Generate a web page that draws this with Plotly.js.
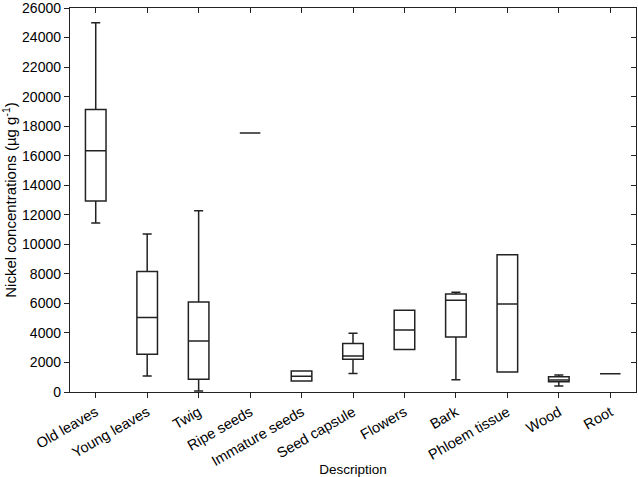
<!DOCTYPE html>
<html>
<head>
<meta charset="utf-8">
<script src="https://cdn.plot.ly/plotly-3.0.1.min.js"></script>
<style>html,body{margin:0;padding:0;background:#fff;}#chart{width:638px;height:477px;}</style>
</head>
<body>
<div id="chart"></div>
<script>
const categories = ["Old leaves","Young leaves","Twig","Ripe seeds","Immature seeds","Seed capsule","Flowers","Bark","Phloem tissue","Wood","Root"];
const minVals    = [11440, 1080,    70, 17530,  740, 1260, 2880,  830, 1350, 400, 1230];
const q1Vals     = [12940, 2560,   860, 17530,  740, 2220, 2880, 3730, 1350, 690, 1230];
const medianVals = [16330, 5040,  3460, 17530, 1060, 2430, 4200, 6220, 5950, 810, 1230];
const q3Vals     = [19120, 8160,  6090, 17530, 1420, 3280, 5530, 6630, 9300, 1030, 1230];
const maxVals    = [25000, 10700, 12270, 17530, 1420, 3980, 5530, 6760, 9300, 1150, 1230];
const yTicks = [0,2000,4000,6000,8000,10000,12000,14000,16000,18000,20000,22000,24000,26000];

const lineColor = "#222222";
const traces = [
  {
    type: "box",
    x: categories,
    q1: q1Vals,
    median: medianVals,
    q3: q3Vals,
    lowerfence: minVals,
    upperfence: maxVals,
    boxpoints: false,
    width: 0.4,
    whiskerwidth: 0.44,
    fillcolor: "rgba(0,0,0,0)",
    line: {color: lineColor, width: 1.5},
    showlegend: false,
    hoverinfo: "skip"
  },
  {
    type: "scatter", x: [], y: [], xaxis: "x2", yaxis: "y2", showlegend: false, hoverinfo: "skip"
  }
];

const fam = "Liberation Sans, Arial, sans-serif";
const layout = {
  width: 638, height: 477,
  margin: {l: 70, r: 2, t: 8, b: 85},
  paper_bgcolor: "#fff", plot_bgcolor: "#fff",
  font: {family: fam, size: 13, color: "#000"},
  showlegend: false,
  xaxis: {
    type: "category",
    categoryorder: "array", categoryarray: categories,
    range: [-0.5, 10.5],
    showline: true, linecolor: lineColor, linewidth: 1.2,
    ticks: "outside", ticklen: 5, tickcolor: lineColor,
    tickangle: -30,
    tickfont: {family: fam, size: 14.5, color: "#000"},
    showgrid: false, zeroline: false,
    title: {text: "Description", font: {family: fam, size: 13.5, color: "#000"}, standoff: 6}
  },
  yaxis: {
    range: [0, 26000],
    tickvals: yTicks,
    ticktext: yTicks.map(String),
    ticklabeloverflow: "allow",
    showline: true, linecolor: lineColor, linewidth: 1.2,
    ticks: "outside", ticklen: 5, tickcolor: lineColor,
    tickfont: {family: fam, size: 14, color: "#000"},
    showgrid: false, zeroline: false,
    title: {text: "Nickel concentrations (µg g<sup>-1</sup>)", font: {family: fam, size: 15, color: "#000"}, standoff: 9}
  },
  xaxis2: {
    overlaying: "x", side: "top", anchor: "y2",
    range: [-0.5, 10.5],
    tickvals: [0,1,2,3,4,5,6,7,8,9,10],
    showticklabels: false,
    showline: true, linecolor: lineColor, linewidth: 1.2,
    ticks: "inside", ticklen: 5, tickcolor: lineColor,
    showgrid: false, zeroline: false
  },
  yaxis2: {
    overlaying: "y", side: "right", anchor: "x2",
    range: [0, 26000],
    tickvals: yTicks,
    showticklabels: false,
    showline: true, linecolor: lineColor, linewidth: 1.2,
    ticks: "inside", ticklen: 5, tickcolor: lineColor,
    showgrid: false, zeroline: false
  }
};

Plotly.newPlot("chart", traces, layout, {staticPlot: true, displayModeBar: false});
</script>
</body>
</html>
